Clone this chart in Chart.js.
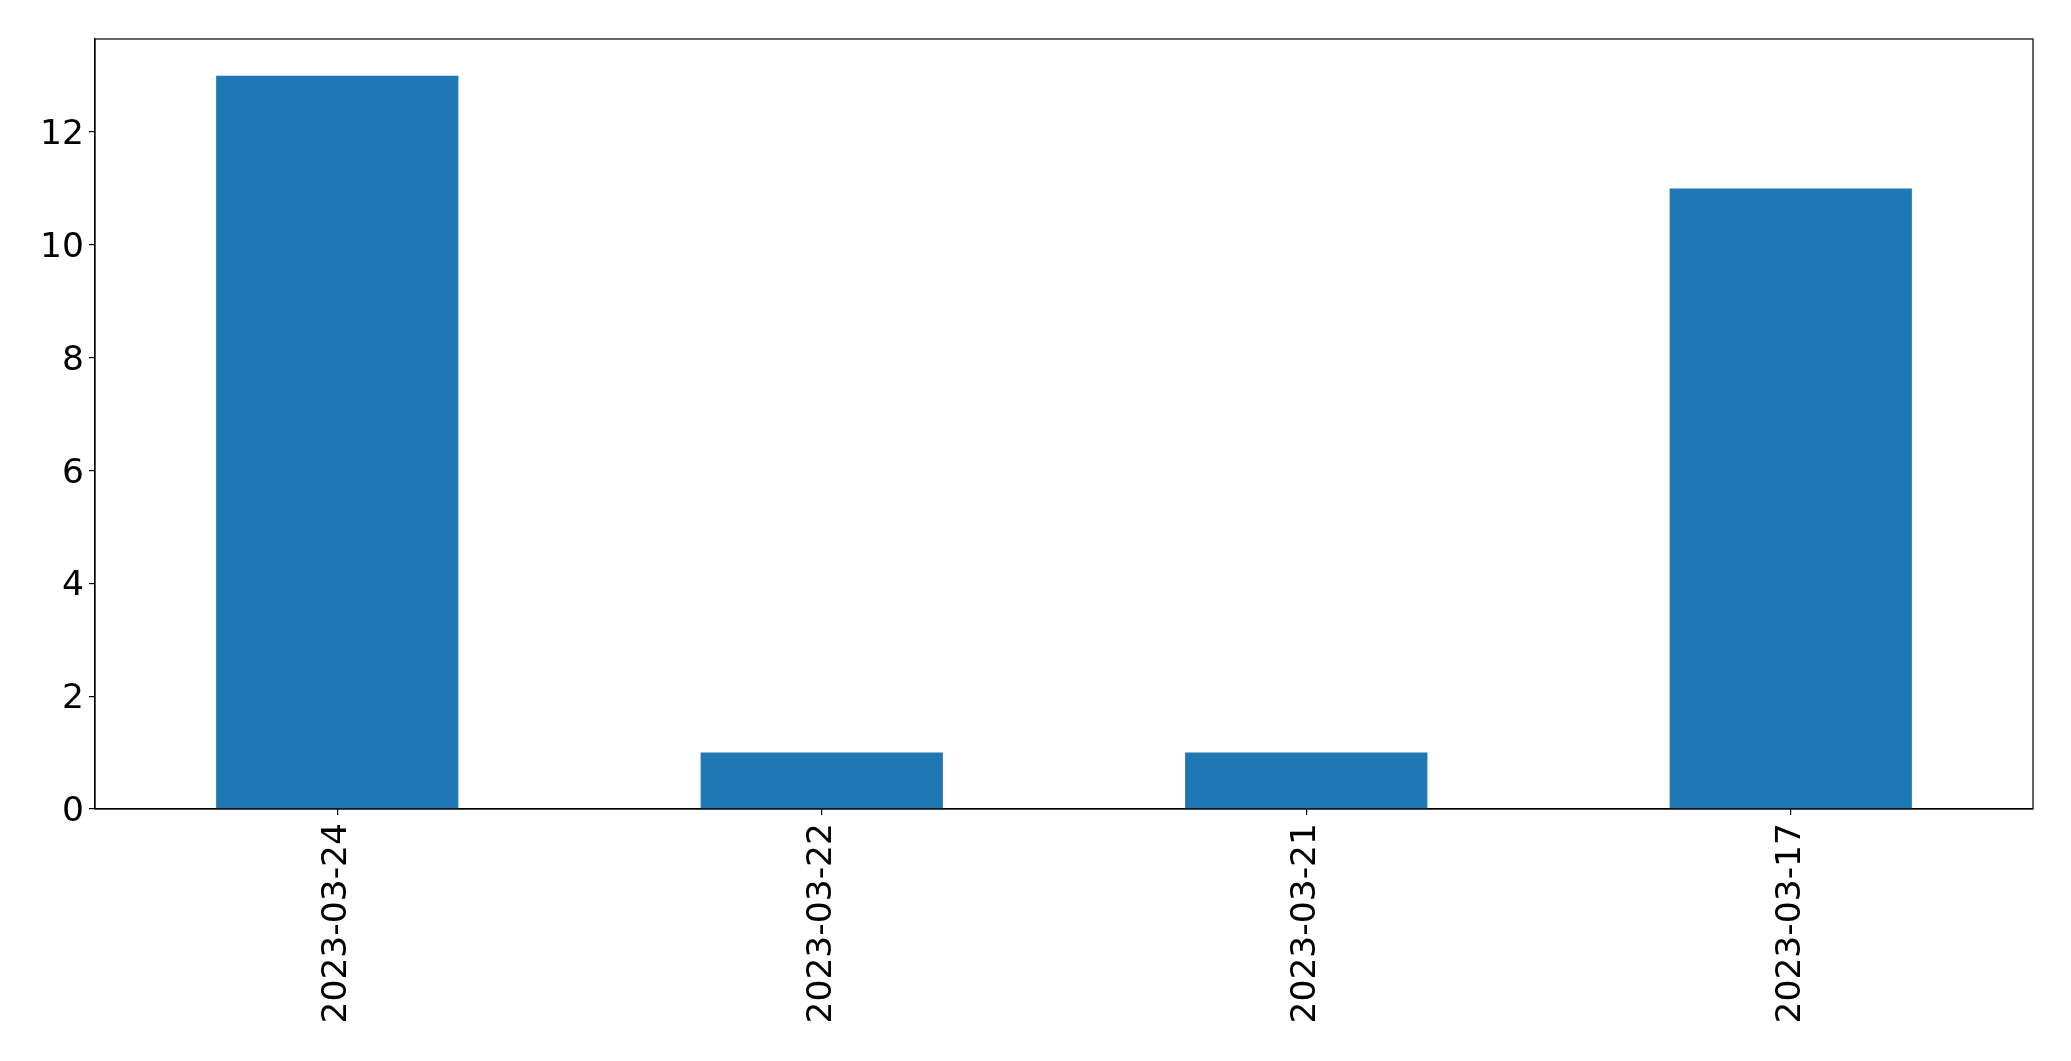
<!DOCTYPE html>
<html>
<head>
<meta charset="utf-8">
<script src="https://cdn.jsdelivr.net/npm/chart.js@4/dist/chart.umd.min.js"></script>
<style>
  html, body { margin: 0; padding: 0; background: #ffffff; }
  #wrap { width: 2071px; height: 1061px; }
</style>
</head>
<body>
<div id="wrap"><canvas id="c" width="2071" height="1061"></canvas></div>
<script>
const categories = ["2023-03-24", "2023-03-22", "2023-03-21", "2023-03-17"];
const counts = [13, 1, 1, 11];
const yTicks = [0, 2, 4, 6, 8, 10, 12];
const yMax = 13.65;

const FONT = "'DejaVu Sans', sans-serif";
const PLOT_LEFT = 95, PLOT_TOP = 39, PLOT_RIGHT = 2033, PLOT_BOTTOM = 809;
const W = 2071, H = 1061;

const frame = {
  id: 'frame',
  afterDraw(chart) {
    const a = chart.chartArea, ctx = chart.ctx;
    ctx.save();
    ctx.strokeStyle = '#000';
    ctx.lineWidth = 1.2;
    ctx.strokeRect(a.left, a.top, a.right - a.left, a.bottom - a.top);
    ctx.restore();
  }
};

new Chart(document.getElementById('c'), {
  type: 'bar',
  data: {
    labels: categories,
    datasets: [{
      data: counts,
      backgroundColor: '#1f77b4',
      borderWidth: 0,
      categoryPercentage: 1.0,
      barPercentage: 0.5
    }]
  },
  options: {
    responsive: false,
    animation: false,
    devicePixelRatio: 1,
    layout: { padding: { left: 0, top: PLOT_TOP, right: W - PLOT_RIGHT, bottom: 0 } },
    plugins: { legend: { display: false }, tooltip: { enabled: false } },
    scales: {
      x: {
        type: 'category',
        offset: true,
        grid: { display: true, offset: false, drawOnChartArea: false, drawTicks: true, tickLength: 6, color: '#000', lineWidth: 1.2 },
        border: { display: true, color: '#000', width: 1.2 },
        ticks: {
          color: '#000',
          font: { family: FONT, size: 34.5 },
          minRotation: 90, maxRotation: 90,
          padding: 8,
          autoSkip: false
        },
        afterFit(scale) { scale.height = H - PLOT_BOTTOM; }
      },
      y: {
        type: 'linear',
        min: 0,
        max: yMax,
        grid: { display: true, drawOnChartArea: false, drawTicks: true, tickLength: 6, color: '#000', lineWidth: 1.2 },
        border: { display: true, color: '#000', width: 1.2 },
        ticks: {
          color: '#000',
          font: { family: FONT, size: 34.5 },
          padding: 5,
          labelOffset: 3,
          stepSize: 2,
          includeBounds: false
        },
        afterBuildTicks(scale) { scale.ticks = yTicks.map(v => ({ value: v })); },
        afterFit(scale) { scale.width = PLOT_LEFT; }
      }
    }
  },
  plugins: [frame]
});
</script>
</body>
</html>
